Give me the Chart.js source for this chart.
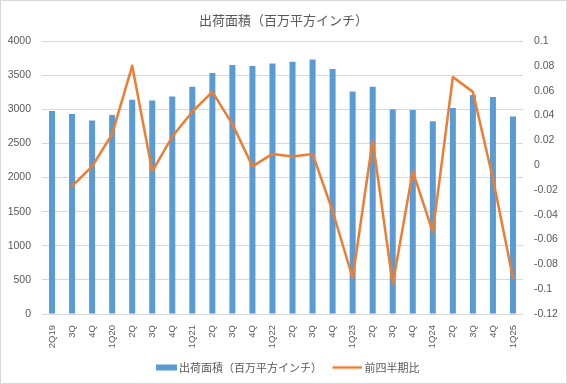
<!DOCTYPE html>
<html><head><meta charset="utf-8">
<script src="https://cdn.jsdelivr.net/npm/chart.js@4/dist/chart.umd.min.js"></script>
<style>
html,body{margin:0;padding:0;background:#fff}
#wrap{position:relative;width:567px;height:384px}
#frame{position:absolute;left:0;top:0;width:567px;height:384px;box-sizing:border-box;border:1px solid #d9d9d9;pointer-events:none}
</style></head>
<body>
<div id="wrap"><canvas id="c" width="567" height="384"></canvas><div id="frame"></div></div>
<script>
const title = '出荷面積（百万平方インチ）';
const categories = ['2Q19','3Q','4Q','1Q20','2Q','3Q','4Q','1Q21','2Q','3Q','4Q','1Q22','2Q','3Q','4Q','1Q23','2Q','3Q','4Q','1Q24','2Q','3Q','4Q','1Q25'];
const shippedArea = [2975,2930,2835,2915,3140,3130,3185,3330,3530,3650,3635,3670,3695,3730,3590,3260,3330,3000,2990,2825,3020,3210,3180,2895];
const qoqChange = [null,-0.017,-0.001,0.025,0.080,-0.005,0.023,0.043,0.059,0.033,-0.001,0.009,0.007,0.009,-0.037,-0.091,0.020,-0.096,-0.005,-0.054,0.071,0.059,-0.011,-0.091];
const seriesNames = ['出荷面積（百万平方インチ）','前四半期比'];

const txt = '#595959';
const BAR = '#5B9BD5', LINE = '#ED7D31';
const cjk = '"Noto Sans CJK JP", sans-serif';

// legend marker images (box width 26, image 33 wide, marker right-aligned)
function marker(kind){
  const c = document.createElement('canvas'); c.width = 33; c.height = 8;
  const g = c.getContext('2d');
  if (kind === 'bar'){ g.fillStyle = BAR; g.fillRect(12, 1, 21, 6); }
  else { g.strokeStyle = LINE; g.lineWidth = 2.5; g.beginPath(); g.moveTo(3, 4); g.lineTo(33, 4); g.stroke(); }
  return c;
}

new Chart(document.getElementById('c'), {
  data: {
    labels: categories,
    datasets: [
      {type:'bar', label: seriesNames[0], data: shippedArea, backgroundColor:BAR, borderWidth:0,
       yAxisID:'y', order:1, barPercentage:0.3, categoryPercentage:1, pointStyle:marker('bar')},
      {type:'line', label: seriesNames[1], data: qoqChange, borderColor:LINE, backgroundColor:LINE,
       borderWidth:2.5, borderJoinStyle:'round', borderCapStyle:'round', pointRadius:0, tension:0, yAxisID:'y1', order:0,
       pointStyle:marker('line'), spanGaps:false}
    ]
  },
  options: {
    responsive:false, animation:false, devicePixelRatio:1,
    layout:{padding:{left:0,right:0,top:0,bottom:1}},
    plugins:{
      title:{display:true, text:title, color:txt, font:{family:cjk, size:13, weight:'normal'}, padding:{top:12,bottom:13.4}},
      legend:{position:'bottom', labels:{color:txt, font:{family:cjk, size:11}, usePointStyle:true, pointStyleWidth:26, boxHeight:6, padding:11,
        sort:(a,b)=>a.datasetIndex-b.datasetIndex}},
      tooltip:{enabled:false}
    },
    scales:{
      x:{grid:{display:false}, border:{display:false},
         ticks:{color:txt, font:{family:'Liberation Sans', size:9.5}, maxRotation:90, minRotation:90, autoSkip:false, padding:3},
         afterFit:(s)=>{s.height=37;}},
      y:{position:'left', min:0, max:4000, grid:{color:'#d9d9d9', drawTicks:false}, border:{display:false},
         ticks:{stepSize:500, color:txt, font:{family:'Liberation Sans', size:10.5}, padding:11, callback:(v)=>String(v)},
         afterFit:(s)=>{s.width=42;}},
      y1:{position:'right', min:-0.12, max:0.1, grid:{display:false, drawTicks:false}, border:{display:false},
         ticks:{stepSize:0.02, color:txt, font:{family:'Liberation Sans', size:10.5}, padding:11, callback:(v)=>String(Number(v.toFixed(2)))},
         afterFit:(s)=>{s.width=44;}}
    }
  }
});
</script>
</body></html>
